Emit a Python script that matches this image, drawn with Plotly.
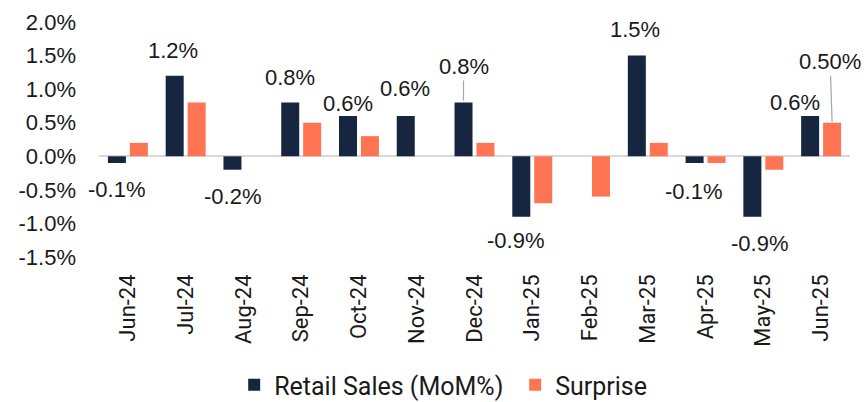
import plotly.graph_objects as go

# ---- data ----
months = ["Jun-24", "Jul-24", "Aug-24", "Sep-24", "Oct-24", "Nov-24", "Dec-24",
          "Jan-25", "Feb-25", "Mar-25", "Apr-25", "May-25", "Jun-25"]
retail_sales = [-0.1, 1.2, -0.2, 0.8, 0.6, 0.6, 0.8, -0.9, 0.0, 1.5, -0.1, -0.9, 0.6]
surprise = [0.2, 0.8, 0.0, 0.5, 0.3, 0.0, 0.2, -0.7, -0.6, 0.2, -0.1, -0.2, 0.5]
y_ticks = [-1.5, -1.0, -0.5, 0.0, 0.5, 1.0, 1.5, 2.0]

# ---- style ----
NAVY = "#172640"
ORANGE = "#FF7452"
LABEL_FONT = dict(family="Liberation Sans, Arial, sans-serif", size=22, color="#1a1a1a")
BAR_OFF = 11  # px offset of each bar from category center

# label placement (dx, dy in px relative to bar end)
retail_label_pos = {
    "Jun-24": (0, -26), "Jul-24": (-2, 25), "Aug-24": (0, -27), "Sep-24": (0, 25),
    "Oct-24": (0, 13), "Nov-24": (-1, 28), "Jan-25": (-6, -24), "Mar-25": (-2, 26),
    "Apr-25": (-1, -28), "May-25": (7, -27), "Jun-25": (-15, 14),
}
retail_arrow_pos = {"Dec-24": (0, -36)}
surprise_arrow_pos = {"Jun-25": (-2, -61)}

fig = go.Figure()
fig.add_trace(go.Bar(x=months, y=retail_sales, name="Retail Sales (MoM%)",
                     marker=dict(color=NAVY, line=dict(width=0))))
fig.add_trace(go.Bar(x=months, y=surprise, name="Surprise",
                     marker=dict(color=ORANGE, line=dict(width=0))))

annotations = []
for m, v in zip(months, retail_sales):
    if m in retail_label_pos:
        dx, dy = retail_label_pos[m]
        annotations.append(dict(x=m, y=v, text=f"{v:.1f}%", showarrow=False,
                                xshift=-BAR_OFF + dx, yshift=dy,
                                xanchor="center", yanchor="middle", font=LABEL_FONT))
    elif m in retail_arrow_pos:
        ax, ay = retail_arrow_pos[m]
        annotations.append(dict(x=m, y=v, text=f"{v:.1f}%", showarrow=True,
                                arrowhead=0, arrowwidth=1.2, arrowcolor="#a6a6a6",
                                ax=ax, ay=ay, standoff=2, xshift=-BAR_OFF,
                                font=LABEL_FONT))
for m, v in zip(months, surprise):
    if m in surprise_arrow_pos:
        ax, ay = surprise_arrow_pos[m]
        annotations.append(dict(x=m, y=v, text=f"{v:.2f}%", showarrow=True,
                                arrowhead=0, arrowwidth=1.2, arrowcolor="#a6a6a6",
                                ax=ax, ay=ay, standoff=1, xshift=BAR_OFF,
                                font=LABEL_FONT))

fig.update_layout(
    width=868, height=402,
    margin=dict(l=99, r=18, t=22, b=145, autoexpand=False),
    paper_bgcolor="white", plot_bgcolor="white",
    barmode="group", bargap=0.24, bargroupgap=0.18,
    showlegend=True,
    legend=dict(orientation="h", x=0.18, xanchor="left", y=-0.545, yanchor="middle",
                font=dict(family="Roboto, sans-serif", size=25, color="#1a1a1a"),
                entrywidth=236, entrywidthmode="pixels", itemwidth=30),
    annotations=annotations,
    xaxis=dict(type="category", tickangle=-90, showgrid=False, showline=False,
               range=[-0.5, len(months) - 0.5], autorange=False,
               ticks="", ticklabelstandoff=12, automargin=False,
               tickfont=dict(family="Roboto, sans-serif", size=22, color="#1a1a1a")),
    yaxis=dict(range=[-1.5, 2.0], tickvals=y_ticks,
               ticktext=[f"{t:.1f}%" for t in y_ticks],
               showgrid=False, showline=False, ticks="", automargin=False,
               zeroline=True, zerolinecolor="#d9d9d9", zerolinewidth=2,
               ticklabelstandoff=22,
               tickfont=dict(family="Liberation Sans, Arial, sans-serif", size=22, color="#1a1a1a")),
)

fig.write_html(
    "out.html",
    config={"displayModeBar": False},
    post_script="document.body.style.margin='0';document.body.style.padding='0';"
                "document.body.style.overflow='hidden';",
)
